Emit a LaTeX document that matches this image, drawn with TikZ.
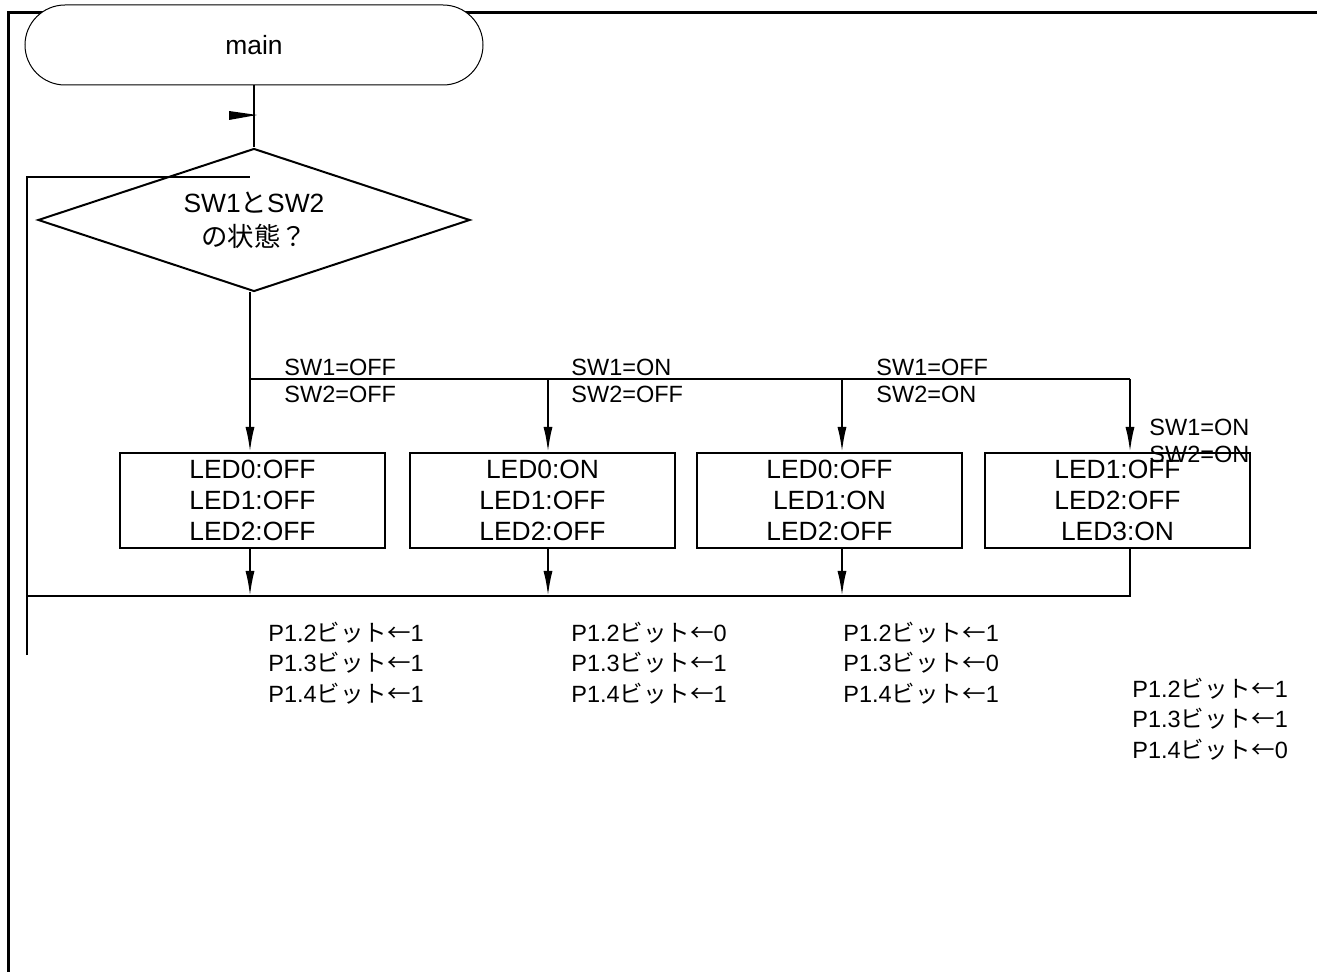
\documentclass[tikz,border=0pt]{standalone}
\usepackage{fontspec}
\setmainfont{Liberation Sans}
\newfontfamily\jpfont{Noto Sans CJK JP}
\usetikzlibrary{arrows.meta,positioning,shapes.geometric}

\begin{document}
\begin{tikzpicture}[
            x=0.5pt, y=-0.5pt,
            font=\fontsize{13.2}{15.5}\selectfont,
            term/.style={draw, line width=0.5pt, fill=white, rounded corners=20pt, minimum width=229pt, minimum height=40pt, inner sep=0pt},
            decide/.style={draw, line width=1pt, diamond, aspect=3.02, minimum width=216pt, minimum height=71.5pt, inner sep=0pt, align=center, font=\fontsize{13.2}{17}\selectfont},
            ledbox/.style={draw, line width=1pt, minimum width=132.5pt, minimum height=47.5pt, inner sep=0pt, align=center},
            cond/.style={anchor=west, inner sep=0pt, align=left, font=\fontsize{11.75}{13.5}\selectfont},
            bits/.style={anchor=west, inner sep=0pt, align=left, font=\fontsize{11.75}{15.25}\selectfont},
            wire/.style={line width=1pt},
            arrow/.style={-{Latex[length=12.5pt, width=4.5pt]}, line width=1pt}
        ]
            \useasboundingbox (0,0) rectangle (1317,972);
            \draw[line width=1.5pt] (8,972) -- (8,13) -- (1317,13);

            \node[term] (main) at (254,45) {main};
            \node[decide] (state) at (254,220) {SW1{\jpfont と}SW2\\{\jpfont の状態？}};
            \draw[wire] (main) -- (state);
            \fill (229,111) -- (257,115) -- (229,120) -- cycle;

            \node[ledbox] (led1) at (252.5,500.5) {LED0:OFF\\LED1:OFF\\LED2:OFF};
            \node[ledbox, right=11.5pt of led1] (led2) {LED0:ON\\LED1:OFF\\LED2:OFF};
            \node[ledbox, right=10pt of led2] (led3) {LED0:OFF\\LED1:ON\\LED2:OFF};
            \node[ledbox, right=10.5pt of led3] (led4) {LED1:OFF\\LED2:OFF\\LED3:ON};

            % branch points and merge line
            \coordinate (j1) at (250,379);
            \coordinate (j2) at (548,379);
            \coordinate (j3) at (842,379);
            \coordinate (j4) at (1130,379);
            \coordinate (m1) at (250,596);
            \coordinate (m2) at (548,596);
            \coordinate (m3) at (842,596);
            \coordinate (m4) at (1130,596);
            \coordinate (back) at (27,596);
            \coordinate (loopend) at (27,655);
            \coordinate (looptop) at (27,177);
            \coordinate (loopin) at (250,177);

            \draw[wire] (state.south -| j1) -- (j1) -- (j4);
            \foreach \i in {1,...,4}
                \draw[arrow] (j\i) -- (j\i |- led\i.north);
            \foreach \i in {1,2,3}
                \draw[arrow] (led\i.south -| m\i) -- (m\i);
            \draw[wire] (led4.south -| m4) -- (m4) -- (back);
            \draw[wire] (loopend) -- (looptop) -- (loopin);

            \node[cond] (c1) at (284,381) {SW1=OFF\\SW2=OFF};
            \node[cond] (c2) at (571,381) {SW1=ON\\SW2=OFF};
            \node[cond] (c3) at (876,381) {SW1=OFF\\SW2=ON};
            \node[cond] (c4) at (1149,441) {SW1=ON\\SW2=ON};

            \node[bits] (b1) at (268,663) {P1.2{\jpfont ビット←}1\\P1.3{\jpfont ビット←}1\\P1.4{\jpfont ビット←}1};
            \node[bits] (b2) at (571,663) {P1.2{\jpfont ビット←}0\\P1.3{\jpfont ビット←}1\\P1.4{\jpfont ビット←}1};
            \node[bits] (b3) at (843,663) {P1.2{\jpfont ビット←}1\\P1.3{\jpfont ビット←}0\\P1.4{\jpfont ビット←}1};
            \node[bits] (b4) at (1132,719) {P1.2{\jpfont ビット←}1\\P1.3{\jpfont ビット←}1\\P1.4{\jpfont ビット←}0};
        \end{tikzpicture}
\end{document}
